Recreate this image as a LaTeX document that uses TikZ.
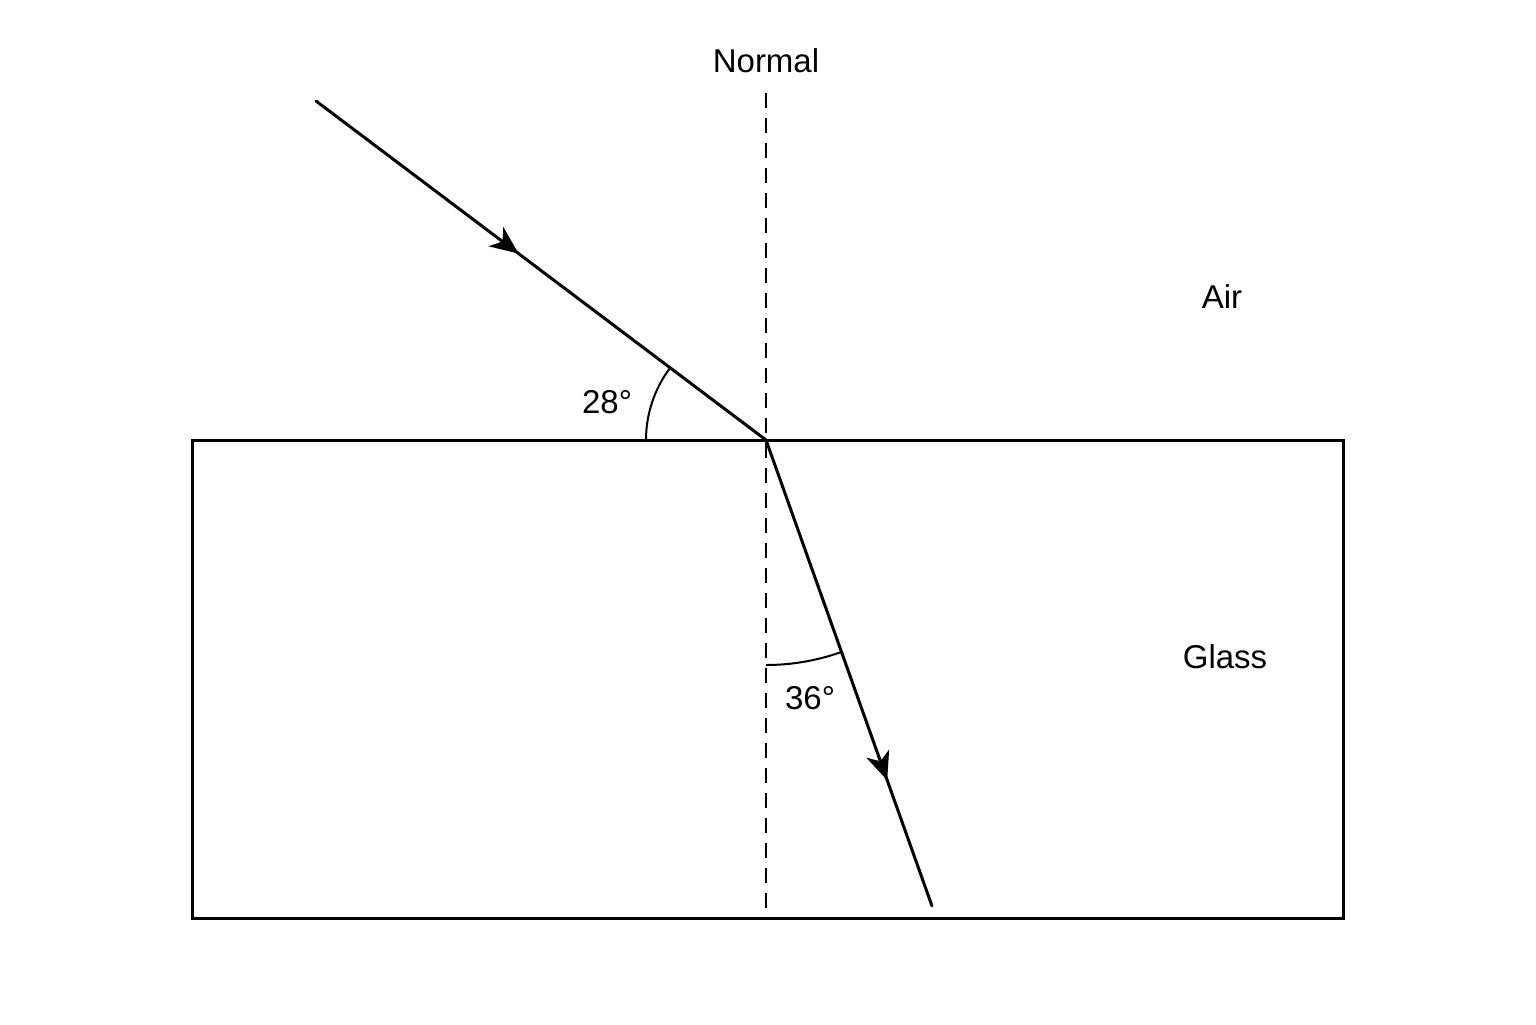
\documentclass[tikz,border=0pt]{standalone}
\usepackage{fontspec}
\setmainfont{Liberation Sans}
\usetikzlibrary{arrows.meta,decorations.markings}
\begin{document}
\begin{tikzpicture}[x=0.5pt,y=-0.5pt,
  ray/.style={line width=1.5pt,line cap=round},
  midarrow/.style={postaction={decorate},decoration={markings,
    mark=at position #1 with {\arrow{Stealth[length=14pt,width=12pt,inset=4pt]}}}},
  normalline/.style={line width=1pt,dash pattern=on 7.5pt off 5pt},
  anglearc/.style={line width=1pt},
  lbl/.style={font=\fontsize{16.5pt}{18pt}\selectfont,inner sep=0pt}]
\useasboundingbox (0,0) rectangle (1536,1024);
\fill[white] (0,0) rectangle (1536,1024);
% glass block
\node[draw,line width=1.5pt,minimum width=575.5pt,minimum height=239pt,inner sep=0pt] (block) at (767.5,679) {};
% points
\coordinate (O) at (766,440);
\coordinate (ntop) at (766,93);
\coordinate (nbot) at (766,915);
\coordinate (src) at (316,101);
\coordinate (dst) at (932,906);
% normal
\draw[normalline] (ntop) -- (nbot);
% rays
\draw[ray,midarrow=0.45] (src) -- (O);
\draw[ray,midarrow=0.73] (O) -- (dst);
% angle arcs
\draw[anglearc] (646,440) arc[start angle=180,end angle=217,radius=120];
\draw[anglearc] (766,665) arc[start angle=90,end angle=70.4,radius=225];
% labels
\node[lbl] (normal) at (766,61) {Normal};
\node[lbl] (air) at (1222,297) {Air};
\node[lbl] (glass) at (1225,657) {Glass};
\node[lbl] (a28) at (607,402) {28°};
\node[lbl] (a36) at (810,698) {36°};
\end{tikzpicture}
\end{document}
